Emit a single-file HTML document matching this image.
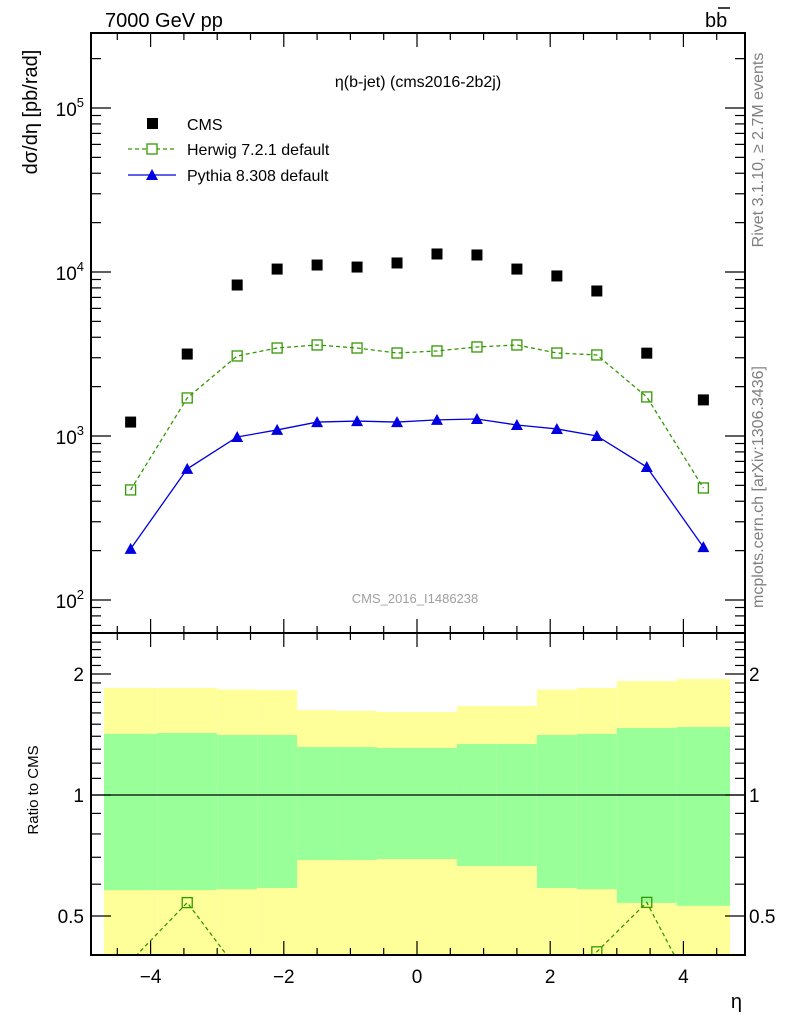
<!DOCTYPE html>
<html><head><meta charset="utf-8"><style>
html,body{margin:0;background:#fff;overflow:hidden;width:786px;height:1024px;}
svg{display:block;font-family:"Liberation Sans","DejaVu Sans",sans-serif;}
</style></head><body>
<svg id="chart" width="786" height="1024" viewBox="0 0 786 1024" xmlns="http://www.w3.org/2000/svg">
<g id="bands"></g>
<g id="marks"></g>
<g id="axes"></g>
<text x="105" y="27" font-size="20">7000 GeV pp</text>
<text x="705" y="27" font-size="20">bb</text>
<line x1="718" y1="8" x2="730" y2="8" stroke="#000" stroke-width="1.5"/>
<text x="418" y="87" font-size="16" text-anchor="middle">η(b-jet) (cms2016-2b2j)</text>
<text transform="translate(37,112) rotate(-90)" font-size="20" text-anchor="middle">dσ/dη [pb/rad]</text>
<text transform="translate(38,790) rotate(-90)" font-size="15" text-anchor="middle">Ratio to CMS</text>
<text x="742" y="1008" font-size="20" text-anchor="end">η</text>
<text transform="translate(763,150) rotate(-90)" font-size="16" fill="#808080" text-anchor="middle">Rivet 3.1.10, ≥ 2.7M events</text>
<text transform="translate(763,487) rotate(-90)" font-size="16" fill="#808080" text-anchor="middle">mcplots.cern.ch [arXiv:1306.3436]</text>
<text x="415" y="603" font-size="13" fill="#a0a0a0" text-anchor="middle">CMS_2016_I1486238</text>
<g>
<rect x="147" y="118" width="11" height="11" fill="#000"/>
<text x="187" y="130" font-size="16">CMS</text>
<line x1="128" y1="149" x2="176" y2="149" stroke="#339900" stroke-width="1.3" stroke-dasharray="4,3"/>
<rect x="147" y="144" width="10" height="10" fill="#fff" stroke="#339900" stroke-width="1.3"/>
<text x="187" y="155" font-size="16">Herwig 7.2.1 default</text>
<line x1="128" y1="175" x2="176" y2="175" stroke="#0000e0" stroke-width="1.3"/>
<polygon points="146,180 158,180 152,169" fill="#0000e0"/>
<text x="187" y="181" font-size="16">Pythia 8.308 default</text>
</g>
</svg>
<script>
const etaCenters=[-4.3,-3.45,-2.7,-2.1,-1.5,-0.9,-0.3,0.3,0.9,1.5,2.1,2.7,3.45,4.3];
const binEdges=[-4.7,-3.9,-3.0,-2.4,-1.8,-1.2,-0.6,0,0.6,1.2,1.8,2.4,3.0,3.9,4.7];
const cmsValues=[1216,3160,8330,10420,11030,10720,11350,12880,12700,10420,9460,7660,3200,1660];
const herwigValues=[469,1706,3076,3440,3590,3440,3206,3300,3490,3590,3206,3120,1730,482];
const pythiaValues=[205,630,986,1089,1216,1233,1216,1254,1270,1167,1104,1000,647,210];
const bandYellowHi=[1.846,1.846,1.83,1.824,1.626,1.62,1.608,1.608,1.665,1.665,1.83,1.846,1.92,1.944];
const bandGreenHi=[1.419,1.426,1.41,1.41,1.316,1.316,1.309,1.309,1.339,1.339,1.41,1.419,1.468,1.476];
const bandGreenLo=[0.580,0.580,0.583,0.587,0.689,0.689,0.693,0.693,0.666,0.666,0.587,0.583,0.539,0.530];
const bandYellowLo=[0.3,0.3,0.3,0.3,0.3,0.3,0.3,0.3,0.3,0.3,0.3,0.3,0.3,0.3];
const xTicks=[-4,-2,0,2,4];
const ratioTicks=[0.5,1,2];

const NS='http://www.w3.org/2000/svg';
const L=91,R=745,T=33,MB=633,RB=955;
const X=v=>417+v*66.6;
const Y=v=>108-(Math.log10(v)-5)*164;
const RY=v=>795-Math.log10(v)*402;
const RMIN=0.4,RMAX=2.53;
const HC='#339900';
function mk(tag,attrs,parent){const e=document.createElementNS(NS,tag);for(const k in attrs)e.setAttribute(k,attrs[k]);parent.appendChild(e);return e;}
const bands=document.getElementById('bands'),marks=document.getElementById('marks'),axes=document.getElementById('axes');
const clampR=v=>Math.min(RMAX,Math.max(RMIN,v));
for(let i=0;i<etaCenters.length;i++){
  const x1=X(binEdges[i]),x2=X(binEdges[i+1]);
  const y1=RY(clampR(bandYellowHi[i])),y2=RY(clampR(bandYellowLo[i]));
  const r=mk('rect',{x:x1,y:y1,width:x2-x1,height:y2-y1,fill:'#ffff99'},bands);
  
  
  const g1=RY(clampR(bandGreenHi[i])),g2=RY(clampR(bandGreenLo[i]));
  const g=mk('rect',{x:x1,y:g1,width:x2-x1,height:g2-g1,fill:'#99ff99'},bands);
  
  
}
mk('line',{x1:L,x2:R,y1:RY(1),y2:RY(1),stroke:'#000','stroke-width':1.2},bands);
function polyline(vals,yf,color,dash,name){
  const pts=etaCenters.map((e,i)=>X(e)+','+yf(vals[i])).join(' ');
  const p=mk('polyline',{points:pts,fill:'none',stroke:color,'stroke-width':1.3},marks);
  if(dash)p.setAttribute('stroke-dasharray',dash);
  
  
}
const defs=mk('defs',{},marks);
const cp=mk('clipPath',{id:'ratioClip'},defs);
mk('rect',{x:L,y:MB,width:R-L,height:RB-MB},cp);
polyline(herwigValues,Y,HC,'4,3','herwig-line');
polyline(pythiaValues,Y,'#0000e0',null,'pythia-line');
etaCenters.forEach((e,i)=>{
  const c=mk('rect',{x:X(e)-5.5,y:Y(cmsValues[i])-5.5,width:11,height:11,fill:'#000'},marks);
  
  
  const h=mk('rect',{x:X(e)-5,y:Y(herwigValues[i])-5,width:10,height:10,fill:'none',stroke:HC,'stroke-width':1.3},marks);
  
  
  const py=Y(pythiaValues[i]),px=X(e);
  const t=mk('polygon',{points:`${px-6},${py+5} ${px+6},${py+5} ${px},${py-6}`,fill:'#0000e0'},marks);
  
  
});
const hr=herwigValues.map((v,i)=>v/cmsValues[i]);
const pr=pythiaValues.map((v,i)=>v/cmsValues[i]);
const rg=mk('g',{'clip-path':'url(#ratioClip)'},marks);
function rline(vals,color,dash,name){
  const p=mk('polyline',{points:etaCenters.map((e,i)=>X(e)+','+RY(vals[i])).join(' '),fill:'none',stroke:color,'stroke-width':1.3},rg);
  if(dash)p.setAttribute('stroke-dasharray',dash);
  
  
}
rline(hr,HC,'4,3','herwig-ratio-line');
rline(pr,'#0000e0',null,'pythia-ratio-line');
etaCenters.forEach((e,i)=>{
  const h=mk('rect',{x:X(e)-5,y:RY(hr[i])-5,width:10,height:10,fill:'none',stroke:HC,'stroke-width':1.3},rg);
  
  
});
[[T,MB],[MB,RB]].forEach(([a,b])=>mk('rect',{x:L,y:a,width:R-L,height:b-a,fill:'none',stroke:'#000','stroke-width':2},axes));
for(let v=-4.5;v<=4.51;v+=0.5){
  const maj=Math.abs(v-Math.round(v/2)*2)<1e-6, len=maj?14:7, x=X(v);
  if(x<L||x>R)continue;
  [[T,1],[MB,-1],[MB,1],[RB,-1]].forEach(([y,d])=>mk('line',{x1:x,x2:x,y1:y,y2:y+d*len,stroke:'#000','stroke-width':1.2},axes));
}
xTicks.forEach(v=>{
  const t=mk('text',{x:X(v),y:983,'font-size':19,'text-anchor':'middle'},axes);
  t.textContent=v<0?'−'+(-v):String(v);
  
  
});
for(let d=1;d<=5;d++){for(let m=1;m<10;m++){
  const v=m*Math.pow(10,d),y=Y(v);if(y<T||y>MB)continue;
  const len=m==1?20:10;
  mk('line',{x1:L,x2:L+len,y1:y,y2:y,stroke:'#000','stroke-width':1.2},axes);
  mk('line',{x1:R,x2:R-len,y1:y,y2:y,stroke:'#000','stroke-width':1.2},axes);
  if(m==1&&d>=2){
    const t=mk('text',{x:84,y:y+8,'font-size':19,'text-anchor':'end'},axes);
    t.innerHTML='10<tspan dy="-9" font-size="13">'+d+'</tspan>';
    
    
  }
}}
for(let v=0.4;v<=2.5;v+=0.1){
  const y=RY(v);if(y<MB||y>RB)continue;
  const maj=ratioTicks.some(r=>Math.abs(r-v)<1e-6);const len=maj?20:10;
  mk('line',{x1:L,x2:L+len,y1:y,y2:y,stroke:'#000','stroke-width':1.2},axes);
  mk('line',{x1:R,x2:R-len,y1:y,y2:y,stroke:'#000','stroke-width':1.2},axes);
}
ratioTicks.forEach(v=>{
  [[84,'end'],[749,'start']].forEach(([x,a])=>{
    const t=mk('text',{x:x,y:RY(v)+7,'font-size':19,'text-anchor':a},axes);
    t.textContent=String(v);
    
    
  });
});
</script>
</body></html>
